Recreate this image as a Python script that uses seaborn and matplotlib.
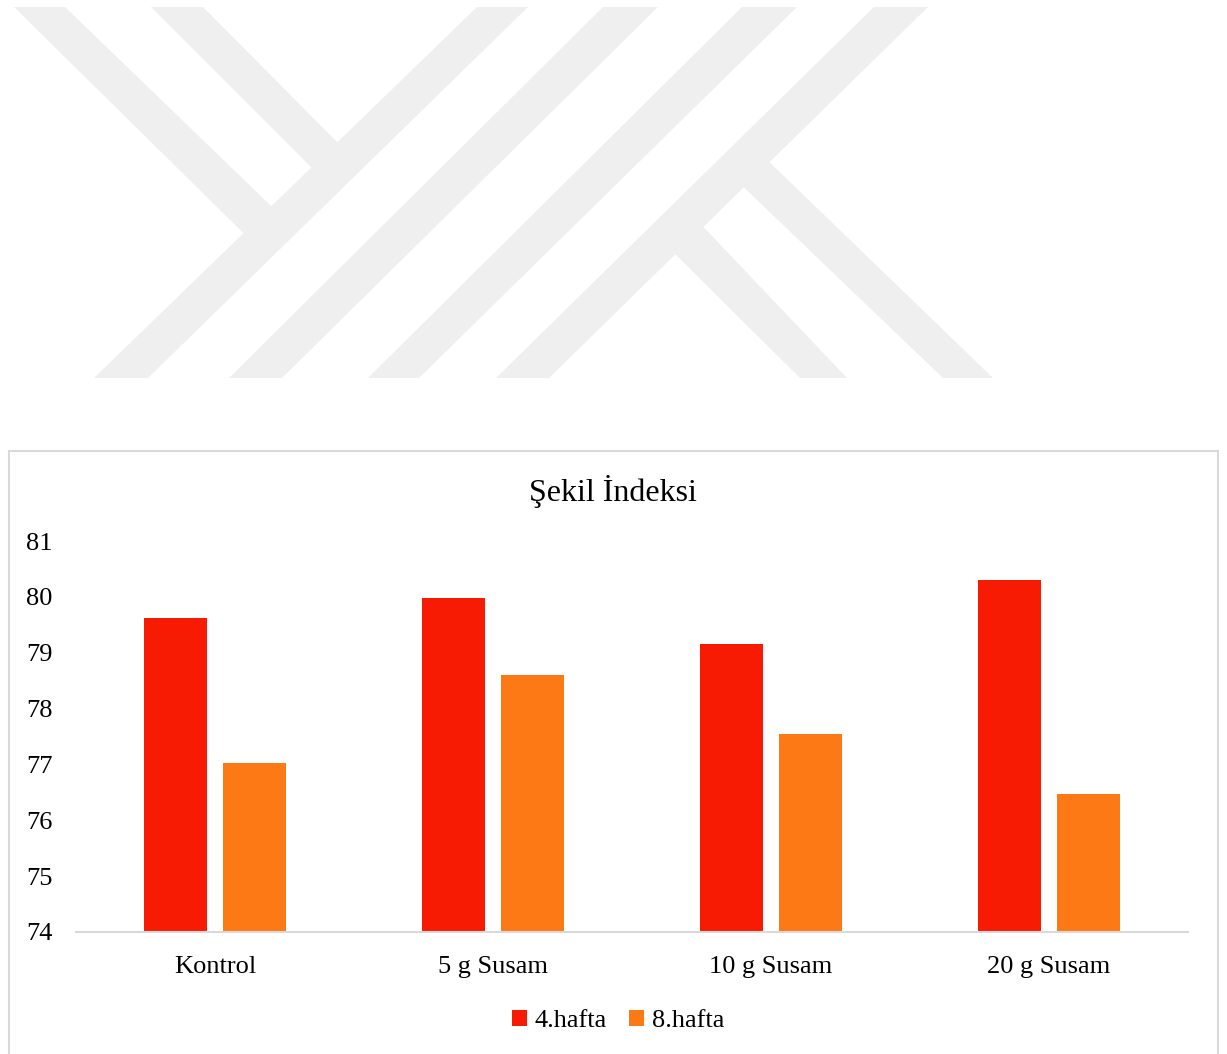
import matplotlib
matplotlib.use("Agg")
import matplotlib.pyplot as plt
from matplotlib.patches import Polygon, Rectangle, Patch
import seaborn as sns
import pandas as pd

# ---- data ----
categories = ["Kontrol", "5 g Susam", "10 g Susam", "20 g Susam"]
series_names = ["4.hafta", "8.hafta"]
hafta4 = [79.62, 79.98, 79.16, 80.30]
hafta8 = [77.03, 78.60, 77.54, 76.47]
yticks = [74, 75, 76, 77, 78, 79, 80, 81]
title = "Şekil İndeksi"

colors = {"4.hafta": "#F81B04", "8.hafta": "#FC7916"}

df = pd.DataFrame({
    "grup": categories * 2,
    "seri": [series_names[0]] * len(categories) + [series_names[1]] * len(categories),
    "deger": hafta4 + hafta8,
})

sns.set_theme(style="white")
plt.rcParams["font.family"] = ["Liberation Serif", "DejaVu Serif"]
plt.rcParams["text.color"] = "#000000"

W, H = 1227, 1054
fig = plt.figure(figsize=(W / 100, H / 100), dpi=100)
fig.patch.set_facecolor("white")

def fx(x):
    return x / W

def fy(y):
    return 1 - y / H

# ---- watermark (decorative logo) ----
wm_color = "#EFEFEF"
wm_shapes = [
    [(94, 378), (148, 378), (528, 7), (477, 7)],
    [(14, 7), (65, 7), (282, 216.5), (254, 243.5)],
    [(151, 7), (203, 7), (348, 153), (322, 178)],
    [(229, 378), (282, 378), (658, 7), (603, 7)],
    [(368, 378), (419, 378), (797, 7), (742, 7)],
    [(496, 378), (549, 378), (928, 7), (874, 7)],
    [(665, 244), (693, 216), (847, 378), (800, 378)],
    [(733, 177), (759, 152), (993, 378), (943, 378)],
]
for shp in wm_shapes:
    fig.patches.append(Polygon([(fx(x), fy(y)) for x, y in shp], closed=True,
                               transform=fig.transFigure, facecolor=wm_color,
                               edgecolor="none", zorder=0))

# ---- chart border ----
fig.patches.append(Rectangle((fx(9), fy(1060)), fx(1218) - fx(9), fy(451) - fy(1060),
                             transform=fig.transFigure, facecolor="none",
                             edgecolor="#D9D9D9", linewidth=1.5, zorder=1))

# ---- axes ----
ax = fig.add_axes([fx(76), fy(932), fx(1188) - fx(76), fy(541) - fy(932)])
ax.set_facecolor("none")
sns.barplot(data=df, x="grup", y="deger", hue="seri", palette=colors,
            saturation=1, width=0.57, gap=0.21, linewidth=0, legend=False, ax=ax)

ax.set_ylim(74, 81)
ax.set_yticks(yticks)
ax.set_yticklabels([str(t) for t in yticks])
ax.set_xlim(-0.5, len(categories) - 0.5)
ax.set_xlabel("")
ax.set_ylabel("")
for side in ["top", "right", "left"]:
    ax.spines[side].set_visible(False)
ax.spines["bottom"].set_color("#D9D9D9")
ax.spines["bottom"].set_linewidth(1.5)
ax.tick_params(axis="y", length=0, pad=17, labelsize=19, labelcolor="#000000")
ax.tick_params(axis="x", length=0, pad=17, labelsize=19, labelcolor="#000000")
ax.grid(False)

fig.text(fx(613), fy(491), title, ha="center", va="center", fontsize=23, color="#000000")

handles = [Patch(facecolor=colors[s], edgecolor="none", label=s) for s in series_names]
fig.legend(handles=handles, loc="center", bbox_to_anchor=(fx(618), fy(1021)), ncol=2,
           frameon=False, fontsize=19, handlelength=0.55, handleheight=0.55,
           handletextpad=0.3, columnspacing=0.85, labelcolor="#000000")

fig.savefig("out.png", dpi=100, facecolor="white")
